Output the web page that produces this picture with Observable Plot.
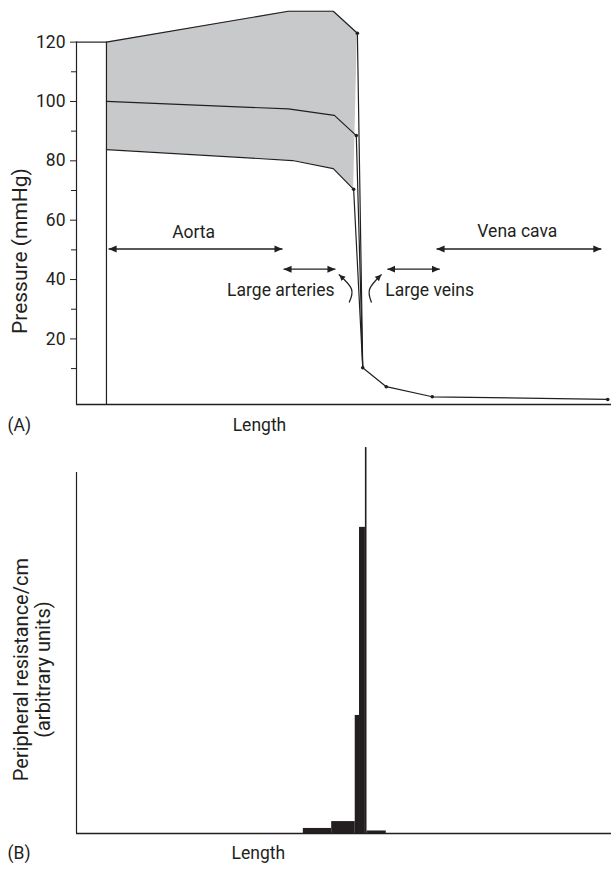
<!DOCTYPE html>
<html>
<head>
<meta charset="utf-8">
<script src="https://cdn.jsdelivr.net/npm/d3@7"></script>
<script src="https://cdn.jsdelivr.net/npm/@observablehq/plot@0.6"></script>
<style>
  body { margin: 0; background: #fff; }
  #chart svg { display: block; }
</style>
</head>
<body>
<div id="chart"></div>
<script>
// ---------- Data (x = position along the circulation, arbitrary length units 0–100) ----------
// Panel A: pressure (mmHg)
const heartX = 5.6;                       // start of aorta (edge of the heart box)
const systolicX = [5.6, 39.6, 48.0, 52.5];
const systolicP = [120, 130.4, 130.4, 123];
const meanX = [5.6, 39.6, 48.2, 52.3];
const meanP = [100, 97.5, 95.3, 88.5];
const diastolicX = [5.6, 40.4, 48.0, 51.8];
const diastolicP = [83.8, 80.1, 77.4, 70.4];
const venousX = [53.5, 57.9, 66.5, 99.3];
const venousP = [10.3, 3.9, 0.5, -0.4];

const pressureTicks = [20, 40, 60, 80, 100, 120];
const pressureMinorTicks = [10, 30, 50, 70, 90, 110];

const regionNames = ["Aorta", "Large arteries", "Large veins", "Vena cava"];
const regionStart = [6.0, 38.7, 58.1, 67.3];
const regionEnd = [38.5, 48.4, 67.9, 98.1];
const regionArrowP = [50.3, 43.5, 43.5, 50.3];
const regionLabelX = [21.9, 38.2, 66.0, 82.4];
const regionLabelP = [55.8, 36.4, 36.4, 56.2];

// small curved pointer arrows (x, pressure) – bottom, middle, tip
const pointerId = ["art", "art", "art", "vein", "vein", "vein"];
const pointerX = [51.0, 51.4, 49.1, 55.1, 54.8, 56.95];
const pointerP = [32.4, 36.8, 41.6, 32.4, 36.8, 41.6];

// Panel B: peripheral resistance per cm (arbitrary units)
const resX1 = [42.4, 47.7, 52.1, 52.9, 54.0, 54.3];
const resX2 = [47.7, 52.1, 52.9, 54.0, 54.3, 57.9];
const resistance = [1.4, 3.3, 32.7, 84.8, 106.9, 0.7];

// ---------- Styling ----------
const FONT = 'Roboto, "Liberation Sans", sans-serif';
const INK = "#231f20";
const GREY = "#c8c9cb";
const yMinA = -2.1;

function head(len, wid) {
  return function (color, context) {
    const doc = (context && context.document) || document;
    const ns = "http://www.w3.org/2000/svg";
    const m = doc.createElementNS(ns, "marker");
    m.setAttribute("viewBox", `${-len} ${-len} ${2 * len} ${2 * len}`);
    m.setAttribute("markerWidth", 2 * len);
    m.setAttribute("markerHeight", 2 * len);
    m.setAttribute("markerUnits", "userSpaceOnUse");
    m.setAttribute("orient", "auto-start-reverse");
    m.setAttribute("refX", 0);
    m.setAttribute("refY", 0);
    const p = doc.createElementNS(ns, "path");
    p.setAttribute("d", `M0,0L${-len},${-wid / 2}L${-len},${wid / 2}Z`);
    p.setAttribute("fill", color);
    p.setAttribute("stroke", "none");
    m.appendChild(p);
    return m;
  };
}

// ---------- Derived tables ----------
const converge = {x: venousX[0], p: venousP[0]};
const band = systolicX.map((x, i) => ({x1: x, y1: systolicP[i], x2: diastolicX[i], y2: diastolicP[i]}));
const arterialLines = [
  ...systolicX.map((x, i) => ({s: "sys", x, p: systolicP[i]})), {s: "sys", ...converge},
  ...meanX.map((x, i) => ({s: "mean", x, p: meanP[i]})), {s: "mean", ...converge},
  ...diastolicX.map((x, i) => ({s: "dia", x, p: diastolicP[i]})), {s: "dia", ...converge}
];
const venous = venousX.map((x, i) => ({x, p: venousP[i]}));
const dots = [
  {x: systolicX[3], p: systolicP[3]},
  {x: meanX[3], p: meanP[3]},
  {x: diastolicX[3], p: diastolicP[3]},
  ...venous
];
const regions = regionNames.map((name, i) => ({
  name, x1: regionStart[i], x2: regionEnd[i], p: regionArrowP[i], lx: regionLabelX[i], lp: regionLabelP[i]
}));
const pointers = pointerId.map((id, i) => ({id, x: pointerX[i], p: pointerP[i]}));
const bars = resistance.map((r, i) => ({x1: resX1[i], x2: resX2[i], r}));

const baseStyle = {fontFamily: FONT, fontSize: "17.5px", color: INK, background: "white", overflow: "visible"};

// ---------- Panel A ----------
const plotA = Plot.plot({
  width: 611, height: 445,
  marginLeft: 76, marginRight: 0, marginTop: 6, marginBottom: 41,
  x: {domain: [0, 100], axis: null},
  y: {domain: [yMinA, 132], axis: null},
  style: baseStyle,
  marks: [
    Plot.area(band, {x1: "x1", y1: "y1", x2: "x2", y2: "y2", fill: GREY}),
    // heart box and axes
    Plot.ruleX([0], {y1: yMinA, y2: 120, stroke: INK, strokeWidth: 1.2}),
    Plot.ruleX([heartX], {y1: yMinA, y2: 120, stroke: INK, strokeWidth: 1.2}),
    Plot.ruleY([120], {x1: 0, x2: heartX, stroke: INK, strokeWidth: 1.2}),
    Plot.ruleY([yMinA], {x1: 0, x2: 100, stroke: INK, strokeWidth: 1.4}),
    Plot.axisY({ticks: pressureTicks, tickSize: 6, tickPadding: 5, label: null, stroke: INK, fontSize: 17.5}),
    Plot.axisY({ticks: pressureMinorTicks, tickSize: 5, tickFormat: () => "", label: null, stroke: INK}),
    // pressure curves
    Plot.line(arterialLines, {x: "x", y: "p", z: "s", stroke: INK, strokeWidth: 1.2}),
    Plot.line(venous, {x: "x", y: "p", stroke: INK, strokeWidth: 1.2}),
    Plot.dot(dots, {x: "x", y: "p", r: 1.8, fill: INK}),
    // region arrows
    Plot.link(regions, {x1: "x1", x2: "x2", y1: "p", y2: "p", stroke: INK, strokeWidth: 1.4,
      markerStart: head(8, 7), markerEnd: head(8, 7)}),
    Plot.text(regions, {x: "lx", y: "lp", text: "name", fill: INK, fontSize: 17.5}),
    Plot.line(pointers, {x: "x", y: "p", z: "id", curve: "natural", stroke: INK, strokeWidth: 1.3,
      markerEnd: head(6, 6)}),
    // labels
    Plot.text(["Pressure (mmHg)"], {x: 0, y: 49.6, dx: -56, rotate: -90, fill: INK, fontSize: 21}),
    Plot.text(["(A)"], {frameAnchor: "bottom-left", dx: -69, dy: 26, textAnchor: "start", fill: INK, fontSize: 17.5}),
    Plot.text(["Length"], {x: 34.2, frameAnchor: "bottom", dy: 26, fill: INK, fontSize: 17.5})
  ]
});

// ---------- Panel B ----------
const plotB = Plot.plot({
  width: 611, height: 424,
  marginLeft: 76, marginRight: 0, marginTop: 27, marginBottom: 36,
  x: {domain: [0, 100], axis: null},
  y: {domain: [0, 100], axis: null},
  style: baseStyle,
  marks: [
    Plot.rect(bars, {x1: "x1", x2: "x2", y1: 0, y2: "r", fill: INK}),
    Plot.ruleX([0], {y1: 0, y2: 100, stroke: INK, strokeWidth: 1.2}),
    Plot.ruleY([0], {x1: 0, x2: 100, stroke: INK, strokeWidth: 1.4}),
    Plot.text(["Peripheral resistance/cm\n(arbitrary units)"], {x: 0, y: 45.4, dx: -45, rotate: -90, lineHeight: 1.1, fill: INK, fontSize: 20}),
    Plot.text(["(B)"], {frameAnchor: "bottom-left", dx: -69, dy: 25, textAnchor: "start", fill: INK, fontSize: 17.5}),
    Plot.text(["Length"], {x: 34.0, frameAnchor: "bottom", dy: 25, fill: INK, fontSize: 17.5})
  ]
});

const chart = document.getElementById("chart");
chart.appendChild(plotA);
chart.appendChild(plotB);
</script>
</body>
</html>
